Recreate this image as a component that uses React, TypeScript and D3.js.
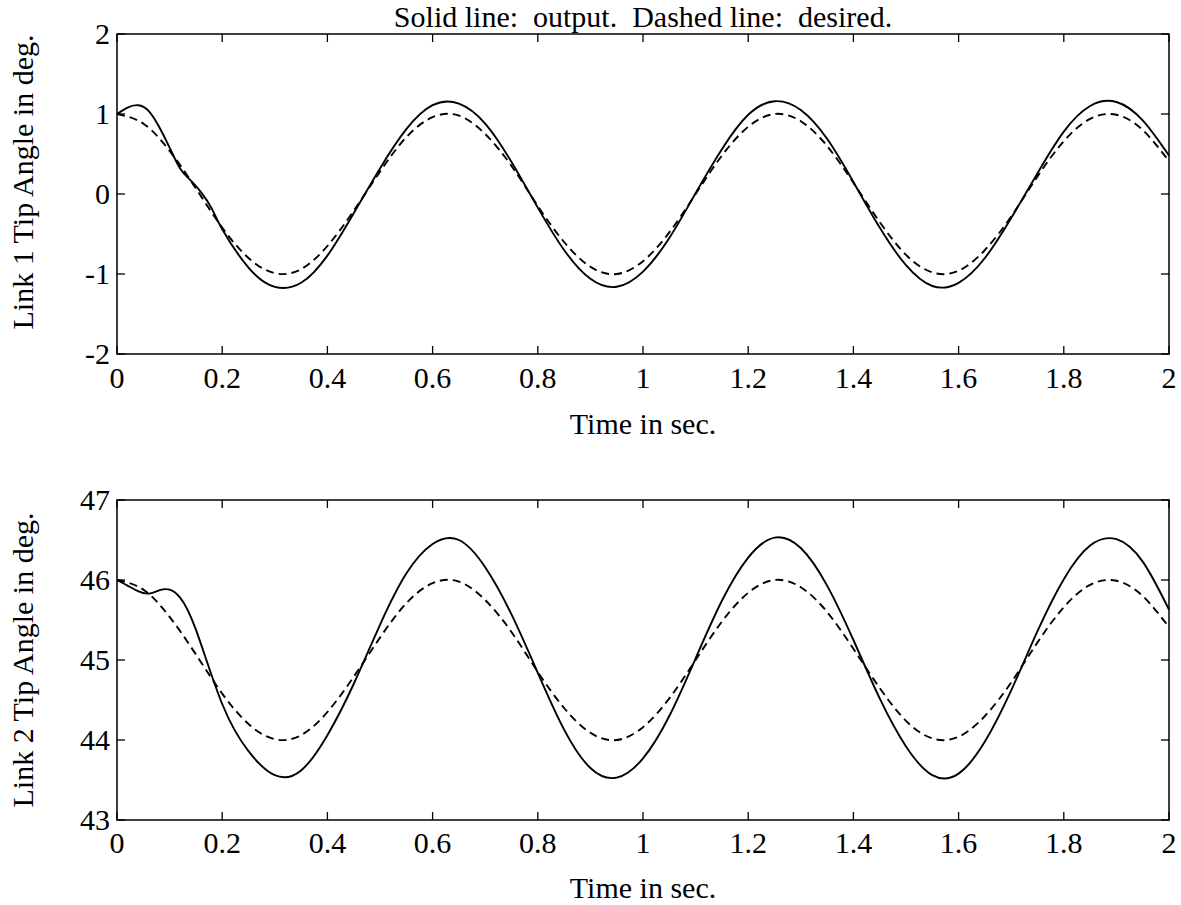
import React from 'react';
import * as d3 from 'd3';

const X_TICKS = [0, 0.2, 0.4, 0.6, 0.8, 1, 1.2, 1.4, 1.6, 1.8, 2];
const Y1_TICKS = [-2, -1, 0, 1, 2];
const Y2_TICKS = [43, 44, 45, 46, 47];

const T_DESIRED = [0, 0.05, 0.1, 0.15, 0.2, 0.25, 0.3, 0.35, 0.4, 0.45, 0.5, 0.55, 0.6, 0.65, 0.7, 0.75, 0.8, 0.85, 0.9, 0.95, 1.0,
  1.05, 1.1, 1.15, 1.2, 1.25, 1.3, 1.35, 1.4, 1.45, 1.5, 1.55, 1.6, 1.65, 1.7, 1.75, 1.8, 1.85, 1.9, 1.95, 2.0];
const DESIRED1 = [1.0, 0.88, 0.54, 0.07, -0.42, -0.8, -0.99, -0.94, -0.65, -0.21, 0.28, 0.71, 0.96, 0.98, 0.75, 0.35, -0.15, -0.6, -0.91, -1.0, -0.84,
  -0.48, 0.0, 0.48, 0.84, 1.0, 0.91, 0.6, 0.14, -0.35, -0.76, -0.98, -0.96, -0.7, -0.28, 0.22, 0.66, 0.94, 0.99, 0.8, 0.41];
const DESIRED2 = [46.0, 45.88, 45.54, 45.07, 44.58, 44.2, 44.01, 44.06, 44.35, 44.79, 45.28, 45.71, 45.96, 45.98, 45.75, 45.35, 44.85, 44.4, 44.09, 44.0, 44.16,
  44.52, 45.0, 45.48, 45.84, 46.0, 45.91, 45.6, 45.14, 44.65, 44.24, 44.02, 44.04, 44.3, 44.72, 45.22, 45.66, 45.94, 45.99, 45.8, 45.41];

const T_OUT1 = [0, 0.02, 0.04, 0.06, 0.08, 0.1, 0.12, 0.14, 0.16, 0.18, 0.2, 0.25, 0.3, 0.35, 0.4, 0.45, 0.5, 0.55, 0.6, 0.65, 0.7, 0.75, 0.8, 0.85, 0.9, 0.95, 1.0,
  1.05, 1.1, 1.15, 1.2, 1.25, 1.3, 1.35, 1.4, 1.45, 1.5, 1.55, 1.6, 1.65, 1.7, 1.75, 1.8, 1.85, 1.9, 1.95, 2.0];
const OUTPUT1 = [1.0, 1.08, 1.11, 1.04, 0.84, 0.58, 0.32, 0.17, 0.02, -0.18, -0.44, -0.92, -1.16, -1.11, -0.77, -0.24, 0.32, 0.81, 1.11, 1.13, 0.88, 0.4, -0.17, -0.7, -1.06, -1.16, -0.97,
  -0.55, 0.01, 0.56, 0.99, 1.16, 1.05, 0.69, 0.15, -0.42, -0.89, -1.15, -1.11, -0.8, -0.3, 0.26, 0.78, 1.1, 1.15, 0.92, 0.48];

const T_OUT2 = [0, 0.02, 0.04, 0.06, 0.08, 0.1, 0.12, 0.15, 0.2, 0.25, 0.3, 0.35, 0.4, 0.45, 0.5, 0.55, 0.6, 0.65, 0.7, 0.75, 0.8, 0.85, 0.9, 0.95, 1.0,
  1.05, 1.1, 1.15, 1.2, 1.25, 1.3, 1.35, 1.4, 1.45, 1.5, 1.55, 1.6, 1.65, 1.7, 1.75, 1.8, 1.85, 1.9, 1.95, 2.0];
const OUTPUT2 = [46.0, 45.93, 45.86, 45.83, 45.87, 45.88, 45.78, 45.38, 44.45, 43.86, 43.56, 43.62, 44.06, 44.7, 45.44, 46.08, 46.45, 46.5, 46.16, 45.57, 44.84, 44.13, 43.65, 43.53, 43.77,
  44.3, 45.02, 45.74, 46.28, 46.53, 46.4, 45.93, 45.25, 44.52, 43.92, 43.56, 43.58, 43.98, 44.62, 45.36, 46.01, 46.43, 46.51, 46.23, 45.63];

const W = 1181;
const H = 905;
const LEFT = 117;
const RIGHT = 1169;
const FONT = '"Liberation Serif", "Times New Roman", serif';
const FS = 30;

const x = d3.scaleLinear().domain([0, 2]).range([LEFT, RIGHT]);

function Panel(props: {
  top: number; bottom: number; yDomain: [number, number]; yTicks: number[];
  tOut: number[]; out: number[]; tDes: number[]; des: number[];
  ylabel: string; ylabelCenter: number; xTitleY: number; xLabelY: number;
}) {
  const { top, bottom, yDomain, yTicks, tOut, out, tDes, des, ylabel, ylabelCenter, xTitleY, xLabelY } = props;
  const y = d3.scaleLinear().domain(yDomain).range([bottom, top]);
  const line = d3.line<[number, number]>()
    .x(d => x(d[0]))
    .y(d => y(d[1]))
    .curve(d3.curveNatural);
  const outPts = tOut.map((t, i) => [t, out[i]] as [number, number]);
  const desPts = tDes.map((t, i) => [t, des[i]] as [number, number]);
  const TL = 8;
  return (
    <g>
      <path d={line(desPts) || ''} fill="none" stroke="#000" strokeWidth={1.9} strokeDasharray="8,5" />
      <path d={line(outPts) || ''} fill="none" stroke="#000" strokeWidth={1.9} />
      <rect x={LEFT} y={top} width={RIGHT - LEFT} height={bottom - top} fill="none" stroke="#000" strokeWidth={1.5} />
      {X_TICKS.map(v => (
        <g key={'x' + v}>
          <line x1={x(v)} x2={x(v)} y1={bottom} y2={bottom - TL} stroke="#000" strokeWidth={1.3} />
          <line x1={x(v)} x2={x(v)} y1={top} y2={top + TL} stroke="#000" strokeWidth={1.3} />
          <text x={x(v)} y={xLabelY} textAnchor="middle" fontFamily={FONT} fontSize={FS}>{String(v)}</text>
        </g>
      ))}
      {yTicks.map(v => (
        <g key={'y' + v}>
          <line x1={LEFT} x2={LEFT + TL} y1={y(v)} y2={y(v)} stroke="#000" strokeWidth={1.3} />
          <line x1={RIGHT} x2={RIGHT - TL} y1={y(v)} y2={y(v)} stroke="#000" strokeWidth={1.3} />
          <text x={LEFT - 7} y={y(v)} dy="0.34em" textAnchor="end" fontFamily={FONT} fontSize={FS}>{String(v)}</text>
        </g>
      ))}
      <text x={(LEFT + RIGHT) / 2} y={xTitleY} textAnchor="middle" fontFamily={FONT} fontSize={FS}>Time in sec.</text>
      <text transform={`translate(33,${ylabelCenter}) rotate(-90)`} textAnchor="middle" fontFamily={FONT} fontSize={FS}>{ylabel}</text>
    </g>
  );
}

export default function App() {
  return (
    <svg width={W} height={H} viewBox={`0 0 ${W} ${H}`} style={{ position: 'absolute', left: 0, top: 0, background: '#fff' }}>
      <rect x={0} y={0} width={W} height={H} fill="#fff" />
      <text x={(LEFT + RIGHT) / 2} y={27} textAnchor="middle" fontFamily={FONT} fontSize={FS} style={{ whiteSpace: 'pre' }}>
        {'Solid line:  output.  Dashed line:  desired.'}
      </text>
      <Panel top={34} bottom={354} yDomain={[-2, 2]} yTicks={Y1_TICKS}
        tOut={T_OUT1} out={OUTPUT1} tDes={T_DESIRED} des={DESIRED1}
        ylabel="Link 1 Tip Angle in deg." ylabelCenter={182} xTitleY={434} xLabelY={388} />
      <Panel top={500} bottom={820} yDomain={[43, 47]} yTicks={Y2_TICKS}
        tOut={T_OUT2} out={OUTPUT2} tDes={T_DESIRED} des={DESIRED2}
        ylabel="Link 2 Tip Angle in deg." ylabelCenter={660} xTitleY={898} xLabelY={853} />
    </svg>
  );
}
